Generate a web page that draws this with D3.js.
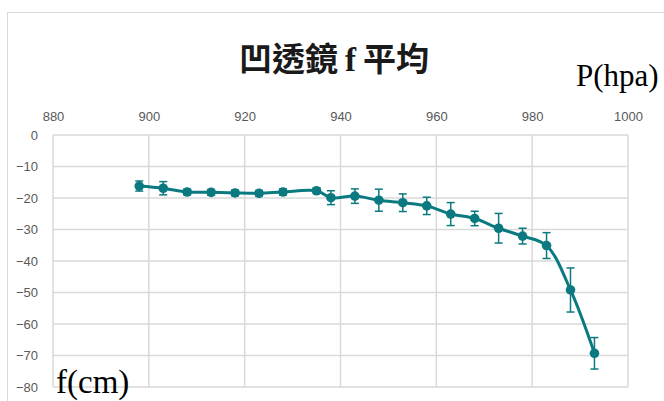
<!DOCTYPE html>
<html>
<head>
<meta charset="utf-8">
<script src="https://cdn.jsdelivr.net/npm/d3@7"></script>
<style>
  html, body { margin: 0; padding: 0; background: #ffffff; }
  svg { display: block; }
</style>
</head>
<body>
<svg id="chart" width="664" height="401"></svg>
<script>
// ---- data ----
const pressure = [898, 903, 908, 913, 918, 923, 928, 935, 938, 943, 948, 953, 958, 963, 968, 973, 978, 983, 988, 993];
const focalMean = [-16.2, -16.9, -18.1, -18.2, -18.4, -18.5, -18.1, -17.7, -19.9, -19.4, -20.7, -21.5, -22.5, -25.1, -26.5, -29.6, -32.1, -35.1, -49.2, -69.3];
const focalErr = [1.6, 2.1, 0.9, 0.9, 0.9, 0.9, 1.0, 0.8, 2.2, 2.3, 3.5, 2.8, 2.75, 3.65, 2.3, 4.7, 2.5, 4.1, 7.0, 5.0];
const xTicks = [880, 900, 920, 940, 960, 980, 1000];
const yTicks = [0, -10, -20, -30, -40, -50, -60, -70, -80];
const titleParts = ["凹透鏡", "f", "平均"];
const xAxisLabel = "P(hpa)";
const yAxisLabel = "f(cm)";

// ---- layout ----
const svg = d3.select("#chart");
const plotLeft = 53, plotRight = 628, plotTop = 135, plotBottom = 387;
const teal = "#0b7a80";
const gridColor = "#d9d9d9";

const x = d3.scaleLinear().domain([880, 1000]).range([plotLeft, plotRight]);
const y = d3.scaleLinear().domain([0, -80]).range([plotTop, plotBottom]);

// outer chart frame
svg.append("rect")
  .attr("x", 7.5).attr("y", 12.5).attr("width", 700).attr("height", 450)
  .attr("fill", "none").attr("stroke", gridColor).attr("stroke-width", 1);

// gridlines
const grid = svg.append("g");
grid.selectAll("line.h").data(yTicks).join("line")
  .attr("class", "h")
  .attr("x1", plotLeft).attr("x2", plotRight)
  .attr("y1", d => y(d)).attr("y2", d => y(d))
  .attr("stroke", gridColor).attr("stroke-width", 1.5);
grid.selectAll("line.v").data(xTicks).join("line")
  .attr("class", "v")
  .attr("y1", plotTop).attr("y2", plotBottom)
  .attr("x1", d => x(d)).attr("x2", d => x(d))
  .attr("stroke", gridColor).attr("stroke-width", 1.5);

// axes (labels only)
const xAxis = svg.append("g")
  .attr("transform", `translate(0,${plotTop - 14})`)
  .call(d3.axisTop(x).tickValues(xTicks).tickSize(0).tickPadding(0).tickFormat(d3.format("d")));
const yAxis = svg.append("g")
  .attr("transform", `translate(${plotLeft - 15},0)`)
  .call(d3.axisLeft(y).tickValues(yTicks).tickSize(0).tickPadding(0).tickFormat(d3.format("d")));
[xAxis, yAxis].forEach(g => {
  g.select(".domain").remove();
  g.selectAll("text")
    .attr("fill", "#595959")
    .style("font-family", "'Liberation Sans', Arial, sans-serif")
    .style("font-size", "13px");
});

// smoothed line
const line = d3.line()
  .x((d, i) => x(pressure[i]))
  .y(d => y(d))
  .curve(d3.curveCatmullRom.alpha(0.5));
svg.append("path")
  .datum(focalMean)
  .attr("d", line)
  .attr("fill", "none")
  .attr("stroke", teal)
  .attr("stroke-width", 3);

// error bars
const eb = svg.append("g").attr("stroke", teal).attr("stroke-width", 1.5);
const capHalf = 4;
focalMean.forEach((m, i) => {
  const cx = x(pressure[i]);
  const y1 = y(m + focalErr[i]), y2 = y(m - focalErr[i]);
  eb.append("line").attr("x1", cx).attr("x2", cx).attr("y1", y1).attr("y2", y2);
  eb.append("line").attr("x1", cx - capHalf).attr("x2", cx + capHalf).attr("y1", y1).attr("y2", y1);
  eb.append("line").attr("x1", cx - capHalf).attr("x2", cx + capHalf).attr("y1", y2).attr("y2", y2);
});

// markers
svg.append("g").selectAll("circle").data(focalMean).join("circle")
  .attr("cx", (d, i) => x(pressure[i]))
  .attr("cy", d => y(d))
  .attr("r", 4.8)
  .attr("fill", teal);

// title and axis titles
const title = svg.append("text")
  .attr("x", 334).attr("y", 71)
  .attr("text-anchor", "middle")
  .style("font-family", "'Liberation Serif', 'Noto Sans CJK TC', serif")
  .style("font-weight", "bold")
  .style("font-size", "33px")
  .attr("fill", "#1a1a1a");
title.append("tspan").text(titleParts[0]);
title.append("tspan").attr("dx", 7).text(titleParts[1]);
title.append("tspan").attr("dx", 7).text(titleParts[2]);

svg.append("text")
  .attr("x", 576).attr("y", 86)
  .style("font-family", "'Liberation Serif', 'Times New Roman', serif")
  .style("font-size", "31px")
  .attr("fill", "#000")
  .text(xAxisLabel);

svg.append("text")
  .attr("x", 56).attr("y", 393)
  .style("font-family", "'Liberation Serif', 'Times New Roman', serif")
  .style("font-size", "33px")
  .attr("fill", "#000")
  .text(yAxisLabel);
</script>
</body>
</html>
